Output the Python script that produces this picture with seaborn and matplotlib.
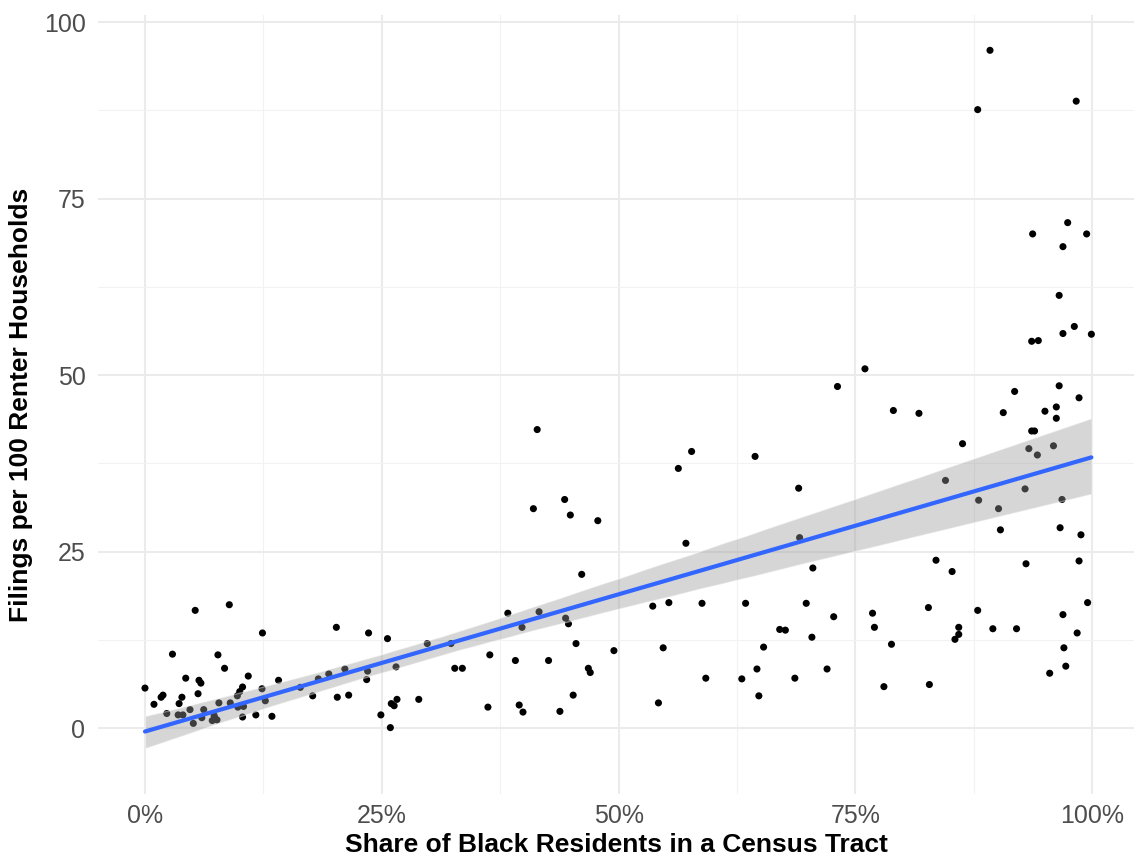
import pandas as pd
import matplotlib
matplotlib.use("Agg")
import matplotlib.pyplot as plt
from matplotlib.ticker import PercentFormatter, MultipleLocator
import seaborn as sns

# share of black residents (%) and filings per 100 renter households
black_share = [
    5.3, 8.9, 12.4, 2.9, 7.7, 8.4, 4.3, 5.7, 5.9, 10.9, 0.0, 1.7, 1.9, 0.95, 3.9,
    5.6, 3.6, 2.3, 3.5, 4.0, 4.75, 5.1, 6.0, 6.2, 7.1, 7.4, 7.6, 7.3, 7.8, 9.0,
    9.75, 10.0, 10.3, 9.8, 10.4, 10.3, 11.7, 12.35, 12.7, 13.4, 14.1, 16.4, 17.7, 18.3, 19.4,
    20.2, 23.6, 25.6, 29.8, 32.3, 38.3, 36.4, 39.1, 21.1, 23.5, 23.4, 26.5, 32.7, 33.5,
    20.3, 21.5, 24.9, 25.9, 26.0, 26.3, 26.6, 28.9, 36.2, 39.5,
    41.4, 57.7, 56.3, 44.3, 41.0, 44.9, 47.8, 57.1, 46.1, 41.6, 39.8, 44.4, 44.7, 53.6,
    55.3, 58.8, 45.5, 49.5, 42.6, 54.7, 46.8, 47.0, 59.2, 45.2, 39.9, 43.8, 54.2,
    76.0, 73.1, 79.0, 81.7, 64.4, 69.0, 69.1, 70.5, 63.4, 69.8, 72.7, 76.8, 77.0, 78.8,
    67.0, 67.6, 70.4, 65.3, 64.6, 72.0, 63.0, 68.6, 64.8, 78.0,
    89.2, 87.9, 98.3, 97.4, 93.7, 99.4, 96.9, 96.5, 98.1, 96.9, 99.9, 93.6, 94.3,
    96.5, 91.8, 98.6, 90.6, 95.0, 96.2, 96.2, 93.6, 93.9, 86.3, 93.3, 95.9, 94.2,
    84.5, 88.0, 92.9, 96.8, 90.1, 90.3, 96.6, 98.8, 83.5, 85.2, 93.0, 98.6, 99.5,
    82.7, 87.9, 96.9, 85.9, 85.9, 85.5, 89.5, 92.0, 98.4, 97.0, 95.5, 97.2, 82.8,
]
filings = [
    16.7, 17.5, 13.5, 10.5, 10.4, 8.5, 7.1, 6.8, 6.4, 7.4, 5.7, 4.4, 4.7, 3.4, 4.4,
    4.9, 3.5, 2.1, 1.9, 1.9, 2.65, 0.7, 1.5, 2.65, 1.1, 1.4, 1.2, 1.8, 3.6, 3.6,
    4.6, 5.2, 5.85, 3.0, 3.1, 1.6, 1.9, 5.6, 3.9, 1.7, 6.8, 5.8, 4.6, 7.0, 7.7,
    14.3, 13.5, 12.7, 12.0, 12.0, 16.3, 10.4, 9.6, 8.4, 8.1, 6.9, 8.7, 8.5, 8.5,
    4.4, 4.7, 1.9, 0.1, 3.5, 3.2, 4.1, 4.1, 3.0, 3.3,
    42.3, 39.2, 36.8, 32.4, 31.1, 30.2, 29.4, 26.2, 21.8, 16.5, 14.3, 15.6, 14.8, 17.3,
    17.8, 17.7, 12.0, 11.0, 9.6, 11.4, 8.5, 7.9, 7.1, 4.7, 2.3, 2.4, 3.6,
    50.9, 48.4, 45.0, 44.6, 38.5, 34.0, 27.0, 22.7, 17.7, 17.7, 15.8, 16.3, 14.3, 11.9,
    14.0, 13.9, 12.9, 11.5, 8.4, 8.4, 7.0, 7.1, 4.6, 5.9,
    96.0, 87.6, 88.8, 71.6, 70.0, 70.0, 68.2, 61.3, 56.9, 55.9, 55.8, 54.8, 54.9,
    48.5, 47.7, 46.8, 44.7, 44.9, 45.5, 43.9, 42.1, 42.1, 40.3, 39.6, 40.0, 38.7,
    35.1, 32.3, 33.9, 32.4, 31.1, 28.1, 28.4, 27.4, 23.8, 22.2, 23.3, 23.7, 17.8,
    17.1, 16.7, 16.1, 14.3, 13.3, 12.6, 14.1, 14.1, 13.5, 11.4, 7.8, 8.8, 6.2,
]

x_ticks = [0, 25, 50, 75, 100]
y_ticks = [0, 25, 50, 75, 100]

FONT = ["Liberation Sans", "DejaVu Sans"]


def main():
    df = pd.DataFrame({"share": black_share, "filings": filings})

    sns.set_theme(style="white")
    plt.rcParams["font.family"] = FONT

    fig = plt.figure(figsize=(11.34, 8.58), dpi=100)
    ax = fig.add_axes([98 / 1134, 64 / 858, 1036 / 1134, 779 / 858])

    sns.scatterplot(data=df, x="share", y="filings", ax=ax,
                    color="black", s=26, edgecolor="none", zorder=2)

    sns.regplot(data=df, x="share", y="filings", ax=ax, scatter=False,
                color="#999999", seed=3,
                line_kws={"color": "#3366FF", "lw": 3, "zorder": 4})

    # make the confidence band look like ggplot's grey ribbon
    band = ax.collections[-1]
    band.set_facecolor("#999999")
    band.set_alpha(0.4)
    band.set_zorder(3)

    ax.set_xlim(-4.96, 104.4)
    ax.set_ylim(-9.3, 101)
    ax.set_xticks(x_ticks)
    ax.set_yticks(y_ticks)
    ax.xaxis.set_major_formatter(PercentFormatter(xmax=100, decimals=0))
    ax.xaxis.set_minor_locator(MultipleLocator(12.5))
    ax.yaxis.set_minor_locator(MultipleLocator(12.5))

    ax.grid(which="major", color="#ebebeb", lw=1.5, zorder=0)
    ax.grid(which="minor", color="#f2f2f2", lw=0.8, zorder=0)
    ax.set_axisbelow(True)
    for s in ax.spines.values():
        s.set_visible(False)

    ax.tick_params(which="both", length=0)
    ax.tick_params(axis="x", labelsize=18, labelcolor="#4d4d4d", pad=7.5)
    ax.tick_params(axis="y", labelsize=18, labelcolor="#4d4d4d", pad=9)

    ax.set_xlabel("Share of Black Residents in a Census Tract",
                  fontsize=19, fontweight="bold", color="black", labelpad=3)
    ax.set_ylabel("Filings per 100 Renter Households",
                  fontsize=19, fontweight="bold", color="black", labelpad=8)

    fig.savefig("out.png", dpi=100)


if __name__ == "__main__":
    main()
